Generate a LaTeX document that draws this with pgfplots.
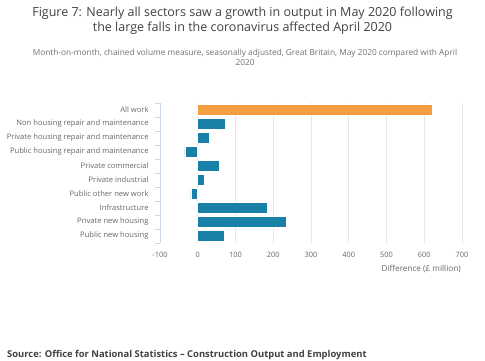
\documentclass[border=0pt]{standalone}
\usepackage{pgfplots}
\pgfplotsset{compat=1.18}
\usepackage{fontspec}
\setmainfont{Open Sans}
\definecolor{onsteal}{RGB}{25,128,168}
\definecolor{onsorange}{RGB}{244,157,65}
\definecolor{titlec}{RGB}{65,64,66}
\definecolor{subc}{RGB}{112,112,112}
\definecolor{labc}{RGB}{102,102,102}
\definecolor{gridc}{RGB}{230,230,230}
\definecolor{axisc}{RGB}{204,214,235}
\begin{document}
\begin{tikzpicture}
\path[use as bounding box] (0,0) rectangle (485pt,360pt);
\clip (0,0) rectangle (485pt,360pt);
\node[font=\fontsize{12.5}{15}\selectfont, text=titlec, align=center] at (242.5pt,339.5pt)
  {Figure 7: Nearly all sectors saw a growth in output in May 2020 following\\the large falls in the coronavirus affected April 2020};
\node[font=\fontsize{8.3}{9.5}\selectfont, text=subc, align=center] at (245pt,302.5pt)
  {Month-on-month, chained volume measure, seasonally adjusted, Great Britain, May 2020 compared with April\\2020};
\begin{axis}[
  at={(160pt,117pt)}, anchor=south west,
  scale only axis, width=302pt, height=140pt,
  xmin=-100, xmax=700, ymin=-0.5, ymax=9.5, y dir=reverse,
  axis x line*=bottom, axis y line*=left,
  x axis line style={draw=none},
  y axis line style={draw=axisc, line width=0.8pt},
  xtick={-100,0,...,700},
  xmajorgrids, grid style={draw=gridc, line width=0.6pt},
  xtick style={draw=none},
  ytick={0,...,9},
  ytick style={draw=none},
  minor ytick={-0.5,0.5,...,9.5},
  minor y tick style={draw=axisc, line width=0.8pt},
  minor tick length=5pt, tick align=outside,
  yticklabels={All work, Non housing repair and maintenance, Private housing repair and maintenance, Public housing repair and maintenance, Private commercial, Private industrial, Public other new work, Infrastructure, Private new housing, Public new housing},
  yticklabel style={font=\fontsize{7.6}{9}\selectfont, text=labc, inner sep=0pt, xshift=-7pt},
  xticklabel style={font=\fontsize{7.4}{9}\selectfont, text=labc, inner sep=0pt, yshift=-5pt},
  /pgf/number format/assume math mode=true,
  xlabel={Difference (£ million)},
  xlabel style={at={(axis description cs:1,0)}, anchor=east, yshift=-26pt, xshift=-1pt, font=\fontsize{8.2}{9}\selectfont, text=labc, inner sep=0pt},
  xbar, bar width=11pt, bar shift=0pt,
]
\addplot[fill=onsorange, draw=white, line width=0.6pt] coordinates {(622,0)};
\addplot[fill=onsteal, draw=white, line width=0.6pt] coordinates {(72,1) (31,2) (-34,3) (57,4) (18,5) (-18,6) (185,7) (234,8) (71,9)};
\end{axis}
\node[anchor=base west, font=\fontsize{9.4}{10}\selectfont\bfseries, text=titlec, inner sep=0pt] at (7pt,3pt)
  {Source: Office for National Statistics -- Construction Output and Employment};
\end{tikzpicture}
\end{document}
